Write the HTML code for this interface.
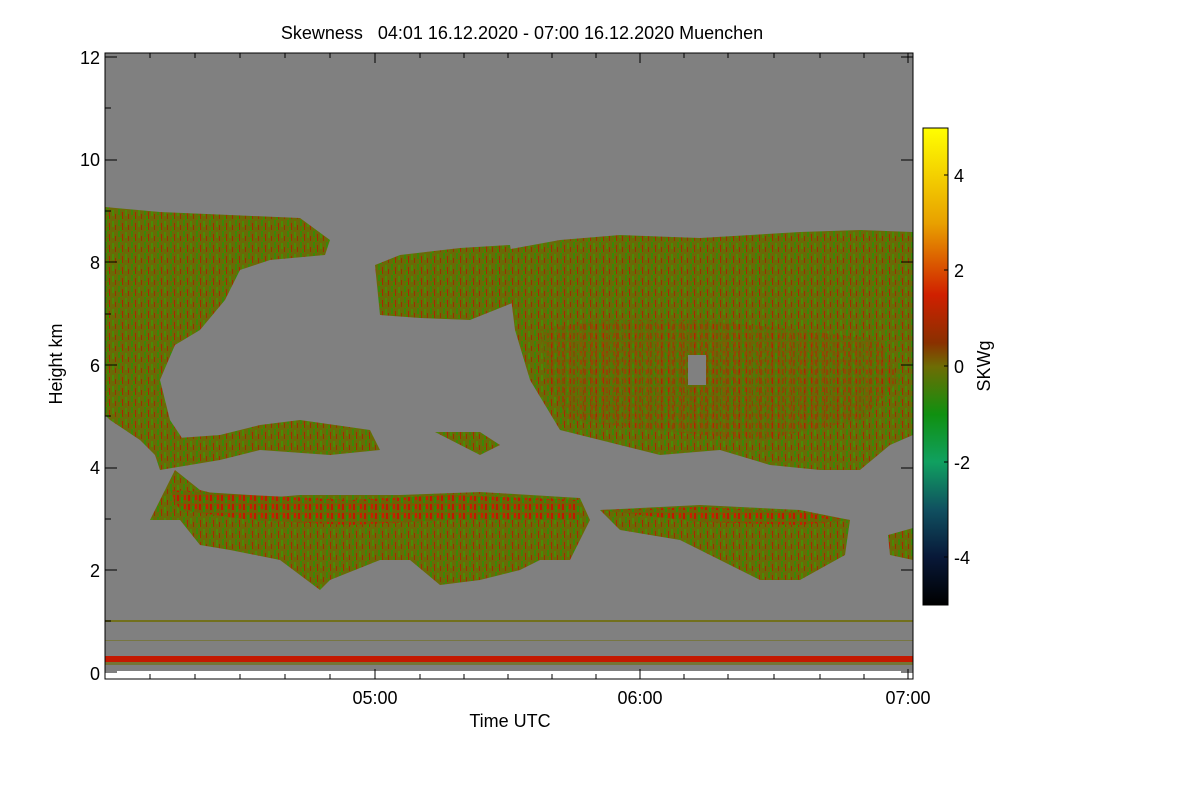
<!DOCTYPE html>
<html><head><meta charset="utf-8"><style>
body{margin:0;background:#fff;width:1200px;height:800px;overflow:hidden}
text{font-family:"Liberation Sans",sans-serif;fill:#000}
</style></head><body>
<svg width="1200" height="800" viewBox="0 0 1200 800" xmlns="http://www.w3.org/2000/svg">
<defs>
<pattern id="p" width="13" height="11" patternUnits="userSpaceOnUse">
<rect width="13" height="11" fill="#6a6a06"/>
<rect x="1" y="0" width="2" height="6" fill="#3a8808"/>
<rect x="5" y="3" width="1" height="7" fill="#a82a00"/>
<rect x="8" y="1" width="2" height="6" fill="#4a8a06"/>
<rect x="11" y="5" width="1" height="5" fill="#9a3000"/>
<rect x="3" y="7" width="2" height="4" fill="#3f8a00"/>
</pattern>
<pattern id="q" width="11" height="9" patternUnits="userSpaceOnUse">
<rect width="11" height="9" fill="#6e6204"/>
<rect x="1" y="0" width="2" height="6" fill="#c01800"/>
<rect x="5" y="2" width="2" height="6" fill="#2d8e08"/>
<rect x="8" y="0" width="2" height="5" fill="#c82000"/>
</pattern>
<linearGradient id="cb" x1="0" y1="0" x2="0" y2="1">
<stop offset="0" stop-color="#ffff00"/><stop offset="0.2" stop-color="#e8a000"/>
<stop offset="0.35" stop-color="#d02000"/><stop offset="0.45" stop-color="#8a3000"/>
<stop offset="0.5" stop-color="#6e6c04"/><stop offset="0.6" stop-color="#109010"/>
<stop offset="0.7" stop-color="#10a060"/><stop offset="0.8" stop-color="#105060"/>
<stop offset="0.9" stop-color="#081838"/><stop offset="1" stop-color="#000000"/>
</linearGradient>
</defs>
<rect x="105" y="53" width="808" height="618" fill="#808080"/>
<rect x="105" y="671" width="808" height="8" fill="#fff"/>
<g fill="url(#p)">
<path d="M105 207 L160 212 L230 215 L300 218 L330 240 L325 255 L270 260 L240 270 L225 300 L200 330 L175 345 L160 380 L170 420 L190 450 L160 460 L140 440 L110 420 L105 415 Z"/>
<path d="M105 520 L150 520 L175 470 L200 490 L240 500 L300 495 L400 495 L480 492 L580 498 L590 520 L570 560 L540 560 L520 570 L480 580 L440 585 L410 560 L380 560 L330 580 L320 590 L300 575 L280 560 L230 550 L200 545 L180 520 Z"/>
<path d="M600 510 L700 505 L800 510 L850 520 L845 555 L800 580 L760 580 L720 560 L680 540 L620 530 Z"/>
<path d="M150 440 L220 435 L260 425 L300 420 L370 430 L380 450 L330 455 L260 450 L220 460 L160 470 Z"/>
<path d="M375 265 L400 255 L460 248 L510 245 L520 300 L470 320 L420 318 L380 315 Z"/>
<path d="M505 250 L560 240 L620 235 L700 238 L800 232 L860 230 L913 232 L913 435 L890 445 L860 470 L820 470 L770 465 L720 450 L660 455 L600 440 L560 430 L530 380 L515 330 Z"/>
<path d="M888 535 L913 528 L913 560 L890 555 Z"/>
<path d="M435 432 L480 432 L500 445 L480 455 Z"/>
</g>
<g fill="url(#q)">
<path d="M170 490 L250 495 L350 500 L450 495 L580 500 L580 520 L450 520 L350 525 L250 520 L180 510 Z"/>
<path d="M600 510 L700 507 L800 512 L850 520 L800 525 L700 522 Z"/>
<path d="M540 330 L600 320 L700 320 L800 330 L880 340 L900 380 L860 420 L760 440 L650 430 L570 420 L545 380 Z" opacity="0.45"/>
</g>
<rect x="688" y="355" width="18" height="30" fill="#808080"/>
<rect x="105" y="656" width="808" height="6" fill="#c41800"/>
<rect x="105" y="662" width="808" height="3" fill="#6e6c04" opacity="0.6"/>
<rect x="105" y="620" width="808" height="2" fill="#6e6c04" opacity="0.8"/>
<rect x="105" y="640" width="808" height="1" fill="#6e6c04" opacity="0.5"/>
<rect x="105" y="53" width="808" height="626" fill="none" stroke="#000" stroke-width="1"/>
<g stroke="#000">
<path d="M105 57h12M105 160h12M105 262h12M105 365h12M105 468h12M105 570h12M105 672h12"/>
<path d="M105 108h6M105 211h6M105 314h6M105 416h6M105 519h6M105 621h6"/>
<path d="M913 57h-12M913 160h-12M913 262h-12M913 365h-12M913 468h-12M913 570h-12M913 672h-12"/>
<path d="M375 679v-10M640 679v-10M908 679v-10M375 53v10M640 53v10M908 53v10"/>
<path d="M150 679v-5M195 679v-5M240 679v-5M285 679v-5M330 679v-5M420 679v-5M464 679v-5M508 679v-5M552 679v-5M596 679v-5M684 679v-5M728 679v-5M774 679v-5M820 679v-5M864 679v-5"/>
<path d="M150 53v5M195 53v5M240 53v5M285 53v5M330 53v5M420 53v5M464 53v5M508 53v5M552 53v5M596 53v5M684 53v5M728 53v5M774 53v5M820 53v5M864 53v5"/>
</g>
<g font-size="18" text-anchor="end">
<text x="100" y="64">12</text><text x="100" y="166">10</text><text x="100" y="269">8</text>
<text x="100" y="372">6</text><text x="100" y="474">4</text><text x="100" y="577">2</text><text x="100" y="680">0</text>
</g>
<g font-size="18" text-anchor="middle">
<text x="375" y="704">05:00</text><text x="640" y="704">06:00</text><text x="908" y="704">07:00</text>
<text x="510" y="727">Time UTC</text>
<text x="522" y="39">Skewness&#160;&#160;&#160;04:01 16.12.2020 - 07:00 16.12.2020 Muenchen</text>
</g>
<text transform="translate(62 364) rotate(-90)" font-size="18" text-anchor="middle">Height km</text>
<rect x="923" y="128" width="25" height="477" fill="url(#cb)" stroke="#000"/>
<g stroke="#000"><path d="M948 175h-4M948 270h-4M948 366h-4M948 462h-4M948 557h-4"/></g>
<g font-size="18">
<text x="954" y="182">4</text><text x="954" y="277">2</text><text x="954" y="373">0</text>
<text x="954" y="469">-2</text><text x="954" y="564">-4</text>
</g>
<text transform="translate(990 366) rotate(-90)" font-size="18" text-anchor="middle">SKWg</text>
</svg>
</body></html>
